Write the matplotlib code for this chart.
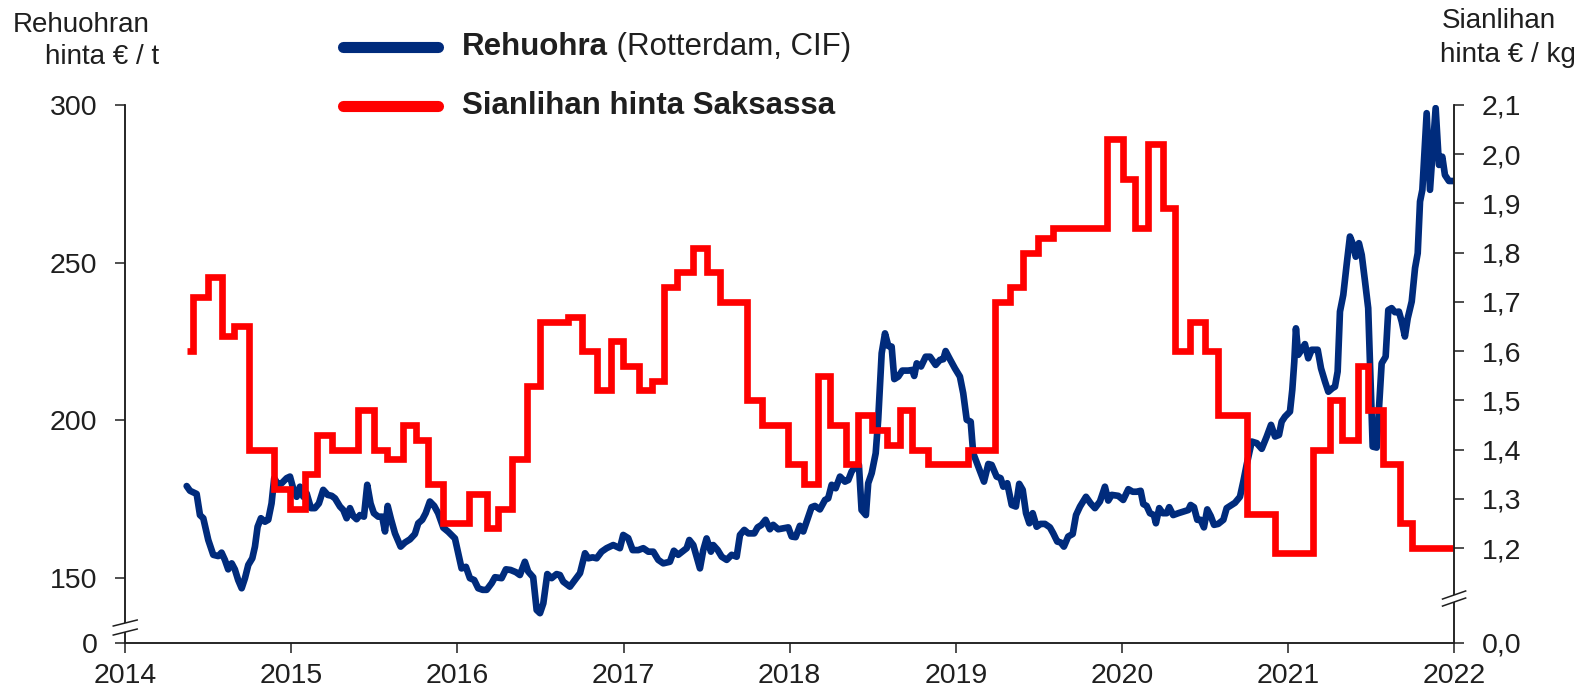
import matplotlib
matplotlib.use('Agg')
import matplotlib.pyplot as plt
from matplotlib.lines import Line2D
from matplotlib.patches import Polygon

plt.rcParams['font.family'] = ['Liberation Sans', 'DejaVu Sans']

BLUE = '#002b7c'
RED = '#ff0000'
INK = '#1f1f1f'

# Rehuohra (Rotterdam, CIF), EUR / t, weekly
feed_years = [
    2014.370, 2014.390, 2014.430, 2014.450, 2014.470, 2014.500, 2014.530, 2014.560,
    2014.580, 2014.600, 2014.620, 2014.641, 2014.660, 2014.680, 2014.701, 2014.721,
    2014.741, 2014.765, 2014.781, 2014.797, 2014.817, 2014.841, 2014.861, 2014.881,
    2014.897, 2014.921, 2014.942, 2014.972, 2014.992, 2015.011, 2015.032, 2015.052,
    2015.072, 2015.092, 2015.118, 2015.142, 2015.166, 2015.192, 2015.219, 2015.243,
    2015.263, 2015.293, 2015.313, 2015.333, 2015.353, 2015.373, 2015.393, 2015.413,
    2015.437, 2015.457, 2015.477, 2015.497, 2015.523, 2015.547, 2015.564, 2015.580,
    2015.600, 2015.624, 2015.658, 2015.684, 2015.714, 2015.744, 2015.764, 2015.788,
    2015.809, 2015.834, 2015.860, 2015.884, 2015.915, 2015.945, 2015.985, 2016.005,
    2016.025, 2016.051, 2016.075, 2016.101, 2016.125, 2016.152, 2016.176, 2016.206,
    2016.226, 2016.266, 2016.292, 2016.320, 2016.352, 2016.376, 2016.406, 2016.426,
    2016.456, 2016.477, 2016.497, 2016.517, 2016.541, 2016.567, 2016.597, 2016.617,
    2016.637, 2016.677, 2016.707, 2016.738, 2016.768, 2016.788, 2016.814, 2016.838,
    2016.868, 2016.898, 2016.938, 2016.978, 2016.998, 2017.028, 2017.055, 2017.089,
    2017.119, 2017.149, 2017.179, 2017.209, 2017.239, 2017.279, 2017.303, 2017.329,
    2017.353, 2017.380, 2017.396, 2017.420, 2017.440, 2017.460, 2017.480, 2017.500,
    2017.526, 2017.540, 2017.567, 2017.591, 2017.621, 2017.651, 2017.681, 2017.701,
    2017.727, 2017.751, 2017.787, 2017.807, 2017.831, 2017.855, 2017.881, 2017.901,
    2017.931, 2017.961, 2017.992, 2018.012, 2018.036, 2018.062, 2018.082, 2018.102,
    2018.132, 2018.152, 2018.182, 2018.213, 2018.232, 2018.253, 2018.277, 2018.303,
    2018.333, 2018.353, 2018.373, 2018.403, 2018.417, 2018.433, 2018.459, 2018.473,
    2018.494, 2018.518, 2018.533, 2018.554, 2018.574, 2018.594, 2018.614, 2018.630,
    2018.654, 2018.678, 2018.714, 2018.738, 2018.750, 2018.765, 2018.791, 2018.819,
    2018.845, 2018.879, 2018.905, 2018.925, 2018.939, 2018.965, 2018.995, 2019.025,
    2019.045, 2019.066, 2019.090, 2019.105, 2019.135, 2019.170, 2019.196, 2019.216,
    2019.246, 2019.270, 2019.286, 2019.310, 2019.337, 2019.362, 2019.382, 2019.403,
    2019.423, 2019.443, 2019.463, 2019.487, 2019.511, 2019.537, 2019.567, 2019.587,
    2019.611, 2019.632, 2019.651, 2019.677, 2019.704, 2019.724, 2019.748, 2019.784,
    2019.812, 2019.838, 2019.868, 2019.898, 2019.918, 2019.939, 2019.978, 2020.008,
    2020.039, 2020.065, 2020.089, 2020.113, 2020.129, 2020.149, 2020.169, 2020.193,
    2020.205, 2020.225, 2020.246, 2020.270, 2020.285, 2020.309, 2020.340, 2020.370,
    2020.400, 2020.414, 2020.434, 2020.454, 2020.474, 2020.494, 2020.514, 2020.535,
    2020.555, 2020.580, 2020.611, 2020.631, 2020.661, 2020.681, 2020.711, 2020.731,
    2020.751, 2020.782, 2020.812, 2020.842, 2020.872, 2020.898, 2020.922, 2020.946,
    2020.962, 2020.982, 2021.012, 2021.026, 2021.038, 2021.048, 2021.062, 2021.082,
    2021.102, 2021.122, 2021.143, 2021.179, 2021.199, 2021.223, 2021.243, 2021.267,
    2021.283, 2021.299, 2021.313, 2021.333, 2021.353, 2021.373, 2021.393, 2021.408,
    2021.427, 2021.444, 2021.464, 2021.483, 2021.500, 2021.510, 2021.534, 2021.548,
    2021.564, 2021.588, 2021.604, 2021.624, 2021.644, 2021.668, 2021.685, 2021.704,
    2021.721, 2021.745, 2021.765, 2021.781, 2021.795, 2021.809, 2021.835, 2021.855,
    2021.889, 2021.909, 2021.929, 2021.945, 2021.969, 2021.995,
]
feed_price = [
    179.2, 177.7, 176.7, 170.0, 169.0, 162.1, 157.4, 157.0,
    158.1, 155.8, 152.8, 154.7, 152.8, 149.4, 146.8, 150.0,
    154.2, 156.3, 160.0, 166.3, 169.0, 167.9, 168.5, 173.7,
    181.7, 179.6, 180.1, 181.7, 182.2, 178.5, 175.8, 179.0,
    175.8, 176.9, 172.2, 172.2, 173.7, 178.0, 176.4, 176.1,
    175.3, 172.7, 171.6, 169.0, 172.2, 169.7, 168.7, 170.0,
    169.5, 179.6, 173.7, 170.6, 169.5, 169.5, 164.8, 172.9,
    168.7, 164.2, 160.0, 161.3, 162.3, 164.0, 167.4, 168.5,
    170.6, 174.3, 172.9, 170.6, 166.0, 164.7, 162.6, 157.9,
    153.1, 153.6, 150.0, 149.4, 146.8, 146.3, 146.3, 148.4,
    150.3, 150.0, 152.8, 152.6, 151.9, 151.0, 155.2, 152.1,
    150.3, 139.9, 138.9, 142.0, 151.3, 150.0, 151.3, 151.0,
    148.9, 147.3, 149.4, 151.6, 157.9, 156.3, 156.6, 156.3,
    158.4, 159.5, 160.5, 159.5, 163.7, 162.7, 158.9, 158.9,
    159.5, 158.4, 158.4, 155.8, 154.7, 155.2, 158.7, 157.4,
    158.4, 159.5, 162.1, 160.5, 156.8, 153.1, 158.9, 162.6,
    158.4, 160.5, 158.9, 156.8, 155.8, 157.4, 156.8, 163.7,
    165.3, 164.2, 164.2, 166.1, 166.9, 168.5, 165.5, 166.9,
    165.5, 165.8, 166.1, 163.2, 163.0, 166.6, 164.8, 167.9,
    172.5, 172.9, 171.8, 174.8, 175.3, 179.6, 178.5, 182.2,
    180.6, 181.1, 183.8, 185.9, 185.9, 171.6, 170.0, 180.1,
    183.3, 189.6, 200.2, 221.3, 227.6, 223.6, 223.4, 213.1,
    213.9, 215.8, 215.8, 216.0, 214.1, 218.1, 217.1, 220.2,
    220.2, 217.6, 219.2, 219.4, 222.0, 219.4, 216.5, 213.9,
    208.6, 200.2, 199.6, 189.6, 185.4, 180.6, 186.2, 185.9,
    182.2, 181.7, 179.0, 180.1, 173.2, 172.7, 179.9, 178.0,
    170.6, 167.4, 170.6, 166.3, 167.2, 167.2, 166.1, 164.2,
    161.6, 161.3, 160.0, 163.2, 164.0, 170.0, 172.7, 175.8,
    173.7, 172.2, 174.3, 179.0, 174.6, 176.4, 176.1, 174.8,
    178.2, 177.4, 177.4, 177.7, 173.5, 172.9, 170.6, 170.0,
    167.4, 172.2, 170.6, 170.6, 172.5, 170.0, 170.6, 171.1,
    171.6, 173.2, 172.5, 168.5, 168.5, 166.1, 171.8, 169.7,
    166.9, 167.2, 168.5, 172.2, 173.2, 173.9, 175.8, 180.6,
    185.9, 193.3, 192.8, 191.0, 194.9, 198.6, 194.9, 195.4,
    199.6, 201.2, 202.8, 209.7, 218.6, 229.2, 220.8, 222.4,
    224.2, 219.7, 222.4, 222.4, 216.5, 212.3, 209.1, 210.2,
    210.7, 215.5, 234.5, 239.8, 249.3, 258.3, 255.6, 251.9,
    256.2, 252.5, 244.0, 235.6, 208.1, 191.7, 191.4, 203.9,
    218.1, 220.2, 235.0, 235.6, 234.3, 234.5, 231.3, 226.6,
    232.4, 237.7, 248.3, 253.0, 269.4, 273.1, 297.4, 273.1,
    299.0, 281.0, 283.6, 277.8, 275.9, 275.9,
]

# Sianlihan hinta Saksassa, EUR / kg, value valid from each date on
pork_years = [
    2014.370, 2014.409, 2014.500, 2014.580, 2014.656, 2014.745, 2014.897, 2014.992,
    2015.082, 2015.152, 2015.246, 2015.399, 2015.499, 2015.574, 2015.670, 2015.748,
    2015.824, 2015.915, 2016.071, 2016.176, 2016.246, 2016.326, 2016.420, 2016.497,
    2016.667, 2016.748, 2016.842, 2016.922, 2016.998, 2017.093, 2017.173, 2017.243,
    2017.323, 2017.416, 2017.500, 2017.580, 2017.741, 2017.831, 2017.992, 2018.086,
    2018.169, 2018.243, 2018.339, 2018.413, 2018.494, 2018.584, 2018.664, 2018.738,
    2018.834, 2019.075, 2019.236, 2019.326, 2019.406, 2019.497, 2019.587, 2019.909,
    2020.008, 2020.079, 2020.159, 2020.249, 2020.320, 2020.410, 2020.500, 2020.580,
    2020.751, 2020.922, 2021.152, 2021.253, 2021.323, 2021.423, 2021.483, 2021.574,
    2021.674, 2021.745, 2021.995,
]
pork_price = [
    1.60, 1.71, 1.75, 1.63, 1.65, 1.40, 1.32, 1.28,
    1.35, 1.43, 1.40, 1.48, 1.40, 1.38, 1.45, 1.42,
    1.33, 1.25, 1.31, 1.24, 1.28, 1.38, 1.53, 1.66,
    1.67, 1.60, 1.52, 1.62, 1.57, 1.52, 1.54, 1.73,
    1.76, 1.81, 1.76, 1.70, 1.50, 1.45, 1.37, 1.33,
    1.55, 1.45, 1.37, 1.47, 1.44, 1.41, 1.48, 1.40,
    1.37, 1.40, 1.70, 1.73, 1.80, 1.83, 1.85, 2.03,
    1.95, 1.85, 2.02, 1.89, 1.60, 1.66, 1.60, 1.47,
    1.27, 1.19, 1.40, 1.50, 1.42, 1.57, 1.48, 1.37,
    1.25, 1.20, 1.20,
]

year_ticks = list(range(2014, 2023))
feed_ticks = [150, 200, 250, 300]
pork_ticks = [1.2, 1.3, 1.4, 1.5, 1.6, 1.7, 1.8, 1.9, 2.0, 2.1]
feed_floor = 129.6   # bottom of the broken left axis, labelled 0
pork_floor = 1.008   # bottom of the broken right axis, labelled 0,0

fig = plt.figure(figsize=(15.85, 6.92), dpi=100)
ax = fig.add_axes([0.0790, 0.0715, 0.8384, 0.7768])
ax2 = ax.twinx()

ax.plot(feed_years, feed_price, color=BLUE, lw=4.8,
        solid_joinstyle='round', solid_capstyle='round')
ax2.plot(pork_years, pork_price, color=RED, lw=4.8, drawstyle='steps-post',
         solid_joinstyle='miter', solid_capstyle='butt')

ax.set_xlim(2014, 2022)
ax.set_ylim(feed_floor, 300)
ax2.set_ylim(pork_floor, 2.1)

ax.set_xticks(year_ticks)
ax.set_xticklabels([str(y) for y in year_ticks])
ax.set_yticks([feed_floor] + feed_ticks)
ax.set_yticklabels(['0'] + [str(v) for v in feed_ticks])
ax2.set_yticks([pork_floor] + pork_ticks)
ax2.set_yticklabels(['0,0'] + [f'{v:.1f}'.replace('.', ',') for v in pork_ticks])

for a in (ax, ax2):
    a.spines['top'].set_visible(False)
    for s in a.spines.values():
        s.set_linewidth(1.1)
        s.set_color(INK)
    a.tick_params(which='both', direction='out', length=7, width=1.1,
                  colors=INK, labelsize=20.5)
ax.tick_params(axis='y', pad=13)
ax2.tick_params(axis='y', pad=13)
ax.tick_params(axis='x', pad=8)
ax.patch.set_visible(False)


def axis_break(axis, x, y_hi, y_lo, half_w, rise):
    # white gap in the spine with two slanted strokes
    tr = axis.transAxes
    gap = Polygon([[x - half_w, y_hi - rise], [x + half_w, y_hi + rise],
                   [x + half_w, y_lo + rise], [x - half_w, y_lo - rise]],
                  closed=True, transform=tr, facecolor='white',
                  edgecolor='none', clip_on=False, zorder=10)
    axis.add_patch(gap)
    for yc in (y_hi, y_lo):
        axis.plot([x - half_w, x + half_w], [yc - rise, yc + rise],
                  transform=tr, color=INK, lw=1.1, clip_on=False, zorder=11)


axis_break(ax2, 0.0, 0.0363, 0.0195, 0.0090, 0.0056)
axis_break(ax2, 1.0, 0.0884, 0.0753, 0.0087, 0.0075)

# axis headers
hdr = 20
fig.text(0.0082, 0.9538, 'Rehuohran', fontsize=hdr, color=INK, va='baseline')
fig.text(0.0284, 0.9070, 'hinta € / t', fontsize=hdr, color=INK, va='baseline')
fig.text(0.9098, 0.9595, 'Sianlihan', fontsize=hdr, color=INK, va='baseline')
fig.text(0.9086, 0.9104, 'hinta € / kg', fontsize=hdr, color=INK, va='baseline')

# legend
for yl, col in ((0.9321, BLUE), (0.8468, RED)):
    fig.add_artist(Line2D([0.2164, 0.2763], [yl, yl], transform=fig.transFigure,
                          color=col, lw=8, solid_capstyle='round'))
leg = 22.5
t1 = fig.text(0.2915, 0.9321, 'Rehuohra', fontsize=leg, weight='bold',
              color=INK, va='center')
fig.text(0.2915, 0.8468, 'Sianlihan hinta Saksassa', fontsize=leg, weight='bold',
         color=INK, va='center')
fig.canvas.draw()
bb = t1.get_window_extent()
x_next = fig.transFigure.inverted().transform((bb.x1, bb.y0))[0]
fig.text(x_next, 0.9321, ' (Rotterdam, CIF)', fontsize=leg, color=INK, va='center')

fig.savefig('out.png', dpi=100)
